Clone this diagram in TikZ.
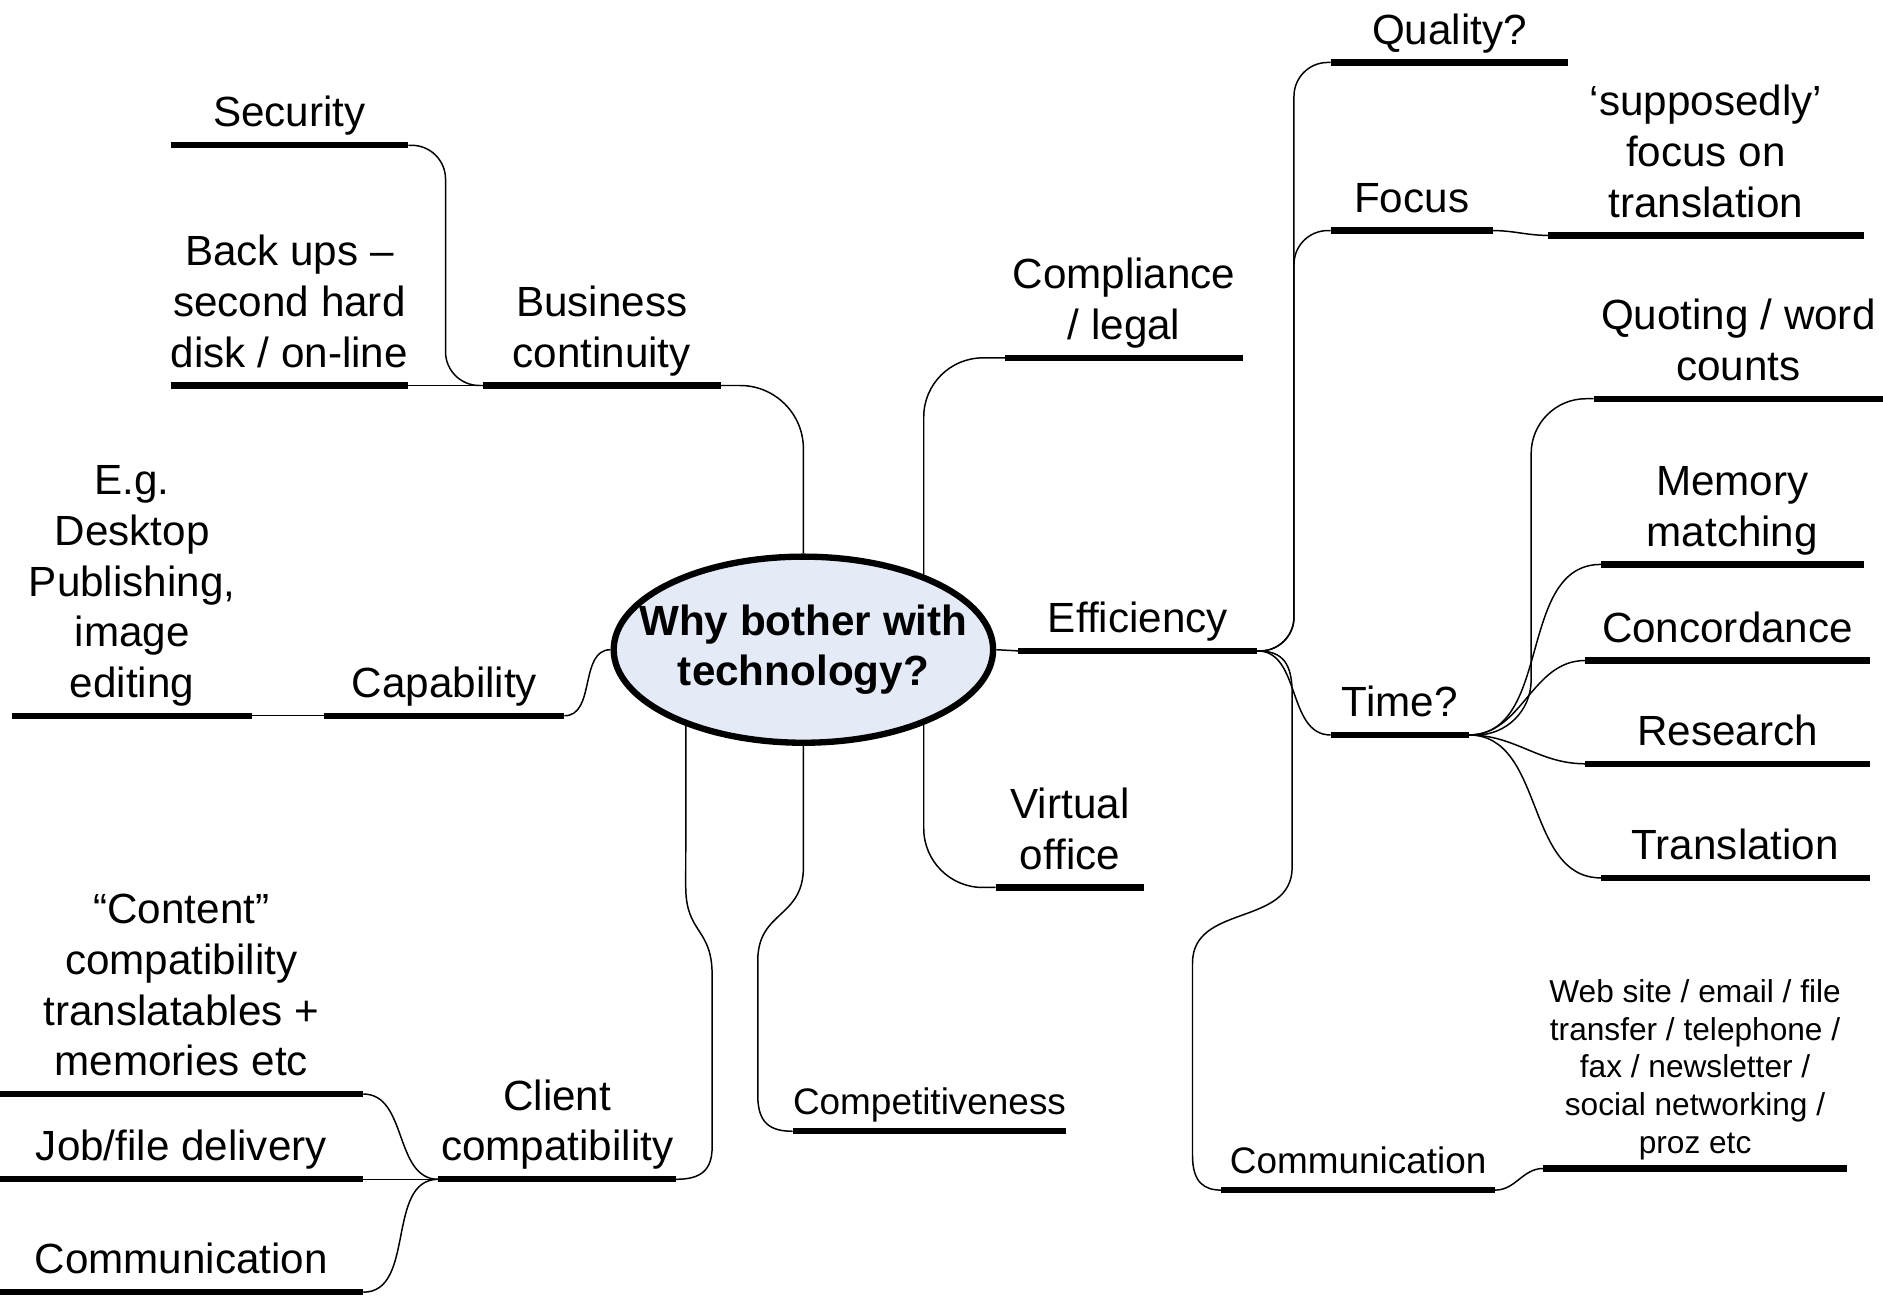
\documentclass[tikz,border=0pt]{standalone}
\usepackage{fontspec}
\setmainfont{Liberation Sans}
\usepackage{tikz}
\usetikzlibrary{calc,shapes.geometric}
\definecolor{rootfill}{RGB}{228,235,247}

\begin{document}
\begin{tikzpicture}[x=0.02cm, y=0.02cm,
  topic/.style={inner xsep=0pt, inner ysep=1.5pt, outer sep=0pt, minimum width=#1*0.02cm, anchor=south, align=center, font=\fontsize{20}{24}\selectfont, execute at end node=\strut},
  smalltext/.style={font=\fontsize{17.5}{21}\selectfont},
  webtext/.style={font=\fontsize{15}{18}\selectfont},
  root/.style={ellipse, draw, line width=3pt, fill=rootfill, align=center, font=\bfseries\fontsize{20}{24}\selectfont, inner xsep=-1cm, inner ysep=0pt, minimum width=6.32cm, minimum height=3.1cm},
  bar/.style={line width=3pt},
  link/.style={line width=0.7pt},
  hv/.style={to path={-| ($(\tikztostart)!.5!(\tikztotarget)$) |- (\tikztotarget)}}]
\useasboundingbox (0, 0) rectangle (1568, -1080);

\node (why) at (669, -541) [root] {Why bother with\\technology?};

% left side
\node (sec) at (241, -121) [topic=198] {Security};
\node (bak) at (241, -321) [topic=198] {Back ups –\\second hard\\disk / on-line};
\node (bc) at (501, -321) [topic=198] {Business\\continuity};
\node (eg) at (110, -596) [topic=200] {E.g.\\Desktop\\Publishing,\\image\\editing};
\node (cap) at (370, -596) [topic=200] {Capability};
\node (cont) at (151, -911) [topic=303] {“Content”\\compatibility\\translatables +\\memories etc};
\node (job) at (151, -982) [topic=303] {Job/file delivery};
\node (comml) at (151, -1076) [topic=303] {Communication};
\node (client) at (464, -982) [topic=198] {Client\\compatibility};

% right side
\node (comp) at (936, -298) [topic=198] {Compliance\\/ legal};
\node (eff) at (947.5, -542) [topic=199] {Efficiency};
\node (vo) at (891, -739) [topic=124] {Virtual\\office};
\node (compet) at (774, -942) [topic=228, smalltext] {Competitiveness};
\node (qual) at (1207, -52) [topic=198] {Quality?};
\node (focus) at (1175.5, -192) [topic=135] {Focus};
\node (supp) at (1420.5, -196) [topic=263] {‘supposedly’\\focus on\\translation};
\node (time) at (1165.5, -612) [topic=115] {Time?};
\node (quot) at (1447.5, -332) [topic=241] {Quoting / word\\counts};
\node (mem) at (1442.5, -470) [topic=219] {Memory\\matching};
\node (conc) at (1438.5, -550) [topic=237] {Concordance};
\node (res) at (1438.5, -636) [topic=237] {Research};
\node (trans) at (1445, -731) [topic=224] {Translation};
\node (comm) at (1131, -991) [topic=228, smalltext] {Communication};
\node (web) at (1411.5, -973) [topic=253, webtext] {Web site / email / file\\transfer / telephone /\\fax / newsletter /\\social networking /\\proz etc};

\foreach \n in {sec, bak, bc, eg, cap, cont, job, comml, client, comp, eff, vo, compet, qual, focus, supp, time, quot, mem, conc, res, trans, comm, web}
  \draw [bar] (\n.south west) -- (\n.south east);

% branches of the root
\draw [link, rounded corners=30pt] (why.north) |- (bc.south east);
\draw [link] (why.west) to[out=180, in=0] (cap.south east);
\draw [link] (why.213) -- (571, -738) .. controls (571, -778) and (593, -772) .. (593, -812) -- (593, -955) .. controls (593, -975) and (583, -982) .. (client.south east);
\draw [link] (why.south) -- (669, -722) .. controls (669, -765) and (631, -758) .. (631, -800) -- (631, -912) .. controls (631, -935) and (641, -942) .. (compet.south west);
\draw [link, rounded corners=28pt] (why.32.5) |- (comp.south west);
\draw [link] (why.east) -- (eff.south west);
\draw [link, rounded corners=28pt] (why.-32.5) |- (vo.south west);

% left children
\draw [link, rounded corners=16pt] (bc.south west) to[hv] (sec.south east);
\draw [link] (bc.south west) -- (bak.south east);
\draw [link] (cap.south west) -- (eg.south east);
\draw [link] (client.south west) to[out=180, in=0] (cont.south east);
\draw [link] (client.south west) -- (job.south east);
\draw [link] (client.south west) to[out=180, in=0] (comml.south east);

% right children
\draw [link, rounded corners=16pt] (eff.south east) to[hv] (qual.south west);
\draw [link, rounded corners=16pt] (eff.south east) to[hv] (focus.south west);
\draw [link] (eff.south east) to[out=0, in=180] (time.south west);
\draw [link] (eff.south east) .. controls (1068, -542) and (1076, -552) .. (1076, -578) -- (1076, -722) .. controls (1076, -772) and (993, -752) .. (993, -802) -- (993, -962) .. controls (993, -985) and (1003, -991) .. (comm.south west);
\draw [link] (focus.south east) to[out=0, in=180] (supp.south west);
\draw [link] (comm.south east) to[out=0, in=180] (web.south west);
\draw [link, rounded corners=26pt] (time.south east) to[hv] (quot.south west);
\foreach \n in {mem, conc, res, trans}
  \draw [link] (time.south east) to[out=0, in=180] (\n.south west);
\end{tikzpicture}
\end{document}
